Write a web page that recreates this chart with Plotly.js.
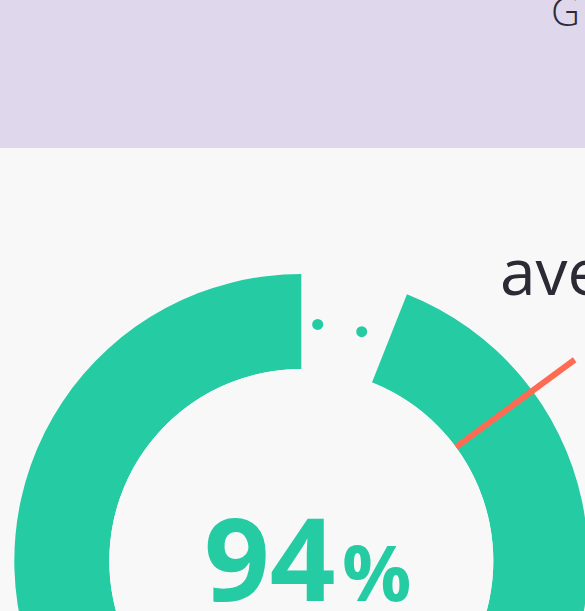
<!DOCTYPE html>
<html><head><meta charset="utf-8">
<script src="https://cdn.plot.ly/plotly-3.0.1.min.js"></script>
<style>
html,body{margin:0;padding:0;overflow:hidden;background:#f8f8f8;width:585px;height:611px}
#wrap{position:absolute;left:-60px;top:0}
</style></head><body><div id="wrap"><div id="chart"></div></div>
<script>
// ---- data ----
const gaugeValue = [94];
const gaugeMax = [100];
const averageValue = [14.9];
const trackDotsPct = [1.1, 4.1];
const valueLabel = ['94'];
const unitLabel = ['%'];
const averageLabel = ['average'];
const headerLabel = ['G'];

// ---- layout geometry (pixels in the plot canvas) ----
const W = 720, H = 920, OFF = 60;
const cx = 301.3 + OFF, cy = 561, Rp = 345, Rin = 192, ring = 95;
const GREEN = '#25cba3', ORANGE = '#ff6b52';
const px = x => x / W, py = y => 1 - y / H;
const deg = p => p / gaugeMax[0] * 360;
const gap = gaugeMax[0] - gaugeValue[0];

const traces = [
  {
    type: 'barpolar',
    r: [1], base: [0],
    theta: [deg(gap + gaugeValue[0] / 2)],
    width: [deg(gaugeValue[0])],
    marker: {color: GREEN, line: {width: 0}},
    hoverinfo: 'skip'
  },
  {
    type: 'scatterpolar', mode: 'markers',
    r: trackDotsPct.map(() => 0.475),
    theta: trackDotsPct.map(deg),
    marker: {size: 11, color: GREEN},
    cliponaxis: false, hoverinfo: 'skip'
  },
  {
    type: 'scatterpolar', mode: 'lines',
    r: [0, 1.552],
    theta: [deg(averageValue[0]), deg(averageValue[0])],
    line: {color: ORANGE, width: 6},
    hoverinfo: 'skip'
  }
];

const layout = {
  width: W, height: H,
  margin: {l: 0, r: 0, t: 0, b: 0},
  paper_bgcolor: '#f8f8f8',
  showlegend: false,
  hovermode: false,
  polar: {
    domain: {x: [px(cx - Rp), px(cx + Rp)], y: [py(cy + Rp), py(cy - Rp)]},
    hole: Rin / Rp,
    bgcolor: 'rgba(0,0,0,0)',
    radialaxis: {range: [0, (Rp - Rin) / ring], visible: false, showgrid: false},
    angularaxis: {rotation: 90, direction: 'clockwise', visible: false, showgrid: false}
  },
  shapes: [{
    type: 'rect', xref: 'paper', yref: 'paper',
    x0: 0, x1: 1, y0: py(148), y1: 1,
    fillcolor: '#dfd7eb', line: {width: 0}, layer: 'below'
  }],
  annotations: [
    {text: valueLabel[0], xref: 'paper', yref: 'paper', x: px(261.5), y: py(637),
     xanchor: 'left', yanchor: 'bottom', showarrow: false,
     font: {family: 'Open Sans', size: 115, color: GREEN, weight: 'bold'}},
    {text: unitLabel[0], xref: 'paper', yref: 'paper', x: px(400), y: py(626.2),
     xanchor: 'left', yanchor: 'bottom', showarrow: false,
     font: {family: 'Open Sans', size: 77, color: GREEN, weight: 'bold'}},
    {text: averageLabel[0], xref: 'paper', yref: 'paper', x: px(557.7), y: py(315.5),
     xanchor: 'left', yanchor: 'bottom', showarrow: false,
     font: {family: 'Open Sans', size: 64, color: '#2b2a35'}},
    {text: headerLabel[0], xref: 'paper', yref: 'paper', x: px(608.7), y: py(40.4),
     xanchor: 'left', yanchor: 'bottom', showarrow: false,
     font: {family: 'Open Sans', size: 40, color: '#2b2a35', weight: 300}}
  ]
};

Plotly.newPlot('chart', traces, layout, {staticPlot: true, displayModeBar: false});
</script></body></html>
